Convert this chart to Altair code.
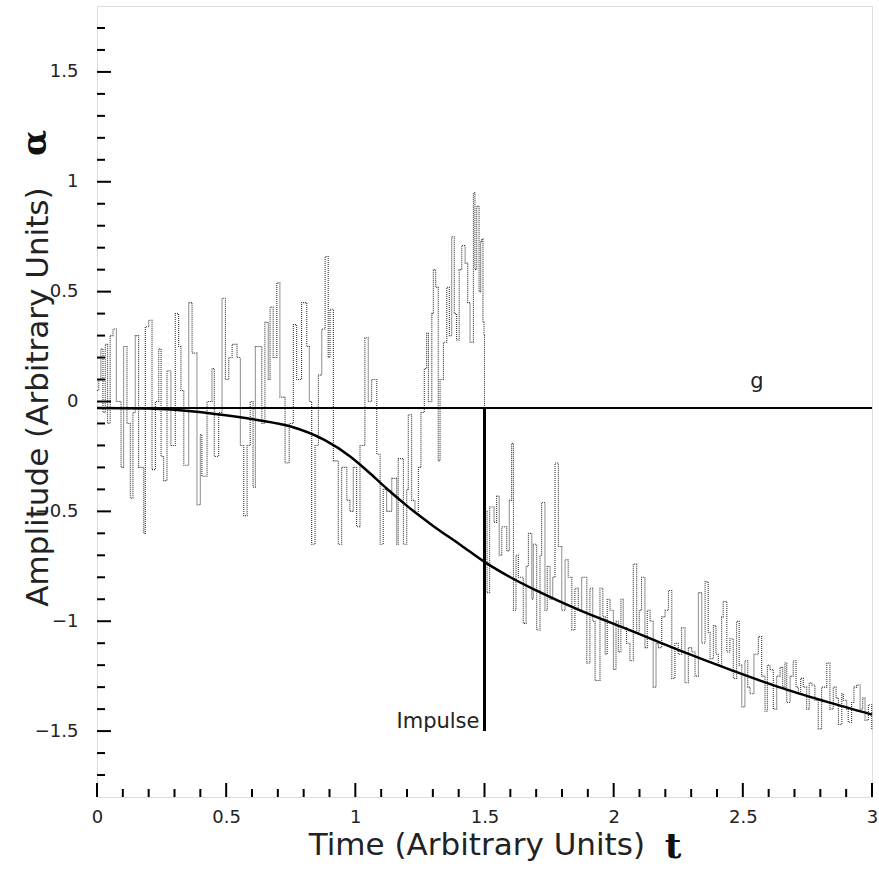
import altair as alt
import pandas as pd

# ---------------- data ----------------
trace_t = [0.000, 0.007, 0.015, 0.023, 0.032, 0.041, 0.051, 0.062, 0.075, 0.093,
           0.103, 0.116, 0.129, 0.139, 0.148, 0.161, 0.181, 0.187, 0.200, 0.213,
           0.226, 0.239, 0.248, 0.258, 0.271, 0.286, 0.303, 0.316, 0.325, 0.336,
           0.355, 0.368, 0.387, 0.400, 0.406, 0.426, 0.445, 0.454, 0.471, 0.484,
           0.497, 0.510, 0.523, 0.542, 0.555, 0.568, 0.581, 0.593, 0.604, 0.613,
           0.638, 0.650, 0.663, 0.670, 0.682, 0.696, 0.708, 0.728, 0.744, 0.760,
           0.773, 0.792, 0.812, 0.822, 0.831, 0.844, 0.857, 0.870, 0.883, 0.895,
           0.902, 0.915, 0.934, 0.947, 0.967, 0.979, 0.992, 1.005, 1.018, 1.037,
           1.050, 1.063, 1.083, 1.096, 1.108, 1.121, 1.141, 1.160, 1.166, 1.186,
           1.199, 1.205, 1.218, 1.231, 1.244, 1.254, 1.267, 1.276, 1.283, 1.296,
           1.302, 1.311, 1.321, 1.328, 1.341, 1.354, 1.364, 1.373, 1.383, 1.392,
           1.402, 1.412, 1.425, 1.435, 1.444, 1.457, 1.463, 1.470, 1.479, 1.485,
           1.490, 1.494, 1.498, 1.500,
           1.503, 1.510, 1.520, 1.537, 1.547, 1.557, 1.567, 1.586, 1.596, 1.605,
           1.612, 1.622, 1.631, 1.650, 1.661, 1.670, 1.683, 1.689, 1.702, 1.715,
           1.721, 1.734, 1.743, 1.754, 1.764, 1.773, 1.786, 1.799, 1.812, 1.824,
           1.838, 1.850, 1.863, 1.876, 1.896, 1.908, 1.919, 1.928, 1.947, 1.958,
           1.967, 1.975, 1.986, 1.999, 2.009, 2.018, 2.028, 2.037, 2.050, 2.063,
           2.076, 2.089, 2.099, 2.108, 2.121, 2.130, 2.141, 2.153, 2.164, 2.173,
           2.186, 2.199, 2.212, 2.225, 2.237, 2.250, 2.263, 2.276, 2.289, 2.302,
           2.315, 2.328, 2.341, 2.354, 2.366, 2.373, 2.386, 2.396, 2.405, 2.418,
           2.424, 2.438, 2.450, 2.463, 2.476, 2.486, 2.496, 2.508, 2.519, 2.528,
           2.543, 2.560, 2.573, 2.586, 2.595, 2.605, 2.618, 2.631, 2.644, 2.654,
           2.663, 2.670, 2.683, 2.695, 2.706, 2.715, 2.724, 2.734, 2.747, 2.757,
           2.767, 2.779, 2.792, 2.805, 2.825, 2.837, 2.850, 2.861, 2.870, 2.883,
           2.889, 2.902, 2.908, 2.921, 2.930, 2.941, 2.954, 2.964, 2.973, 2.986,
           2.999]
trace_v = [0.05, 0.10, 0.24, -0.05, 0.26, -0.10, 0.30, 0.33, 0.00, -0.30,
           0.25, -0.10, -0.44, -0.05, 0.30, -0.30, -0.60, 0.34, 0.37, -0.31,
           0.00, 0.24, -0.25, -0.36, 0.14, -0.20, 0.40, 0.25, 0.05, -0.29,
           0.45, 0.22, -0.47, -0.15, -0.34, 0.00, 0.15, -0.25, -0.05, 0.47,
           0.10, 0.20, 0.26, 0.20, -0.20, -0.52, -0.20, 0.00, -0.39, 0.25,
           -0.10, 0.36, 0.10, 0.43, 0.20, 0.54, 0.02, -0.28, -0.10, 0.35,
           0.10, 0.45, 0.25, 0.00, -0.65, -0.20, 0.12, 0.33, 0.66, 0.20,
           0.42, -0.27, -0.65, -0.30, -0.45, -0.50, -0.30, -0.57, -0.20, 0.29,
           0.00, 0.10, -0.24, -0.65, -0.40, -0.50, -0.35, -0.65, -0.26, -0.65,
           -0.40, -0.06, -0.45, -0.51, -0.30, -0.05, 0.15, 0.31, 0.00, 0.40,
           0.60, 0.52, -0.27, 0.10, 0.27, 0.52, 0.30, 0.75, 0.40, 0.28,
           0.60, 0.71, 0.63, 0.45, 0.27, 0.95, 0.60, 0.89, 0.50, 0.73,
           0.74, 0.36, 0.30, -0.04,
           -0.50, -0.87, -0.48, -0.55, -0.43, -0.70, -0.57, -0.68, -0.45, -0.19,
           -0.95, -0.70, -0.80, -1.01, -0.75, -0.60, -0.90, -0.65, -1.04, -0.70,
           -0.46, -0.95, -0.75, -0.90, -0.80, -0.28, -0.66, -0.95, -0.72, -0.80,
           -1.04, -0.85, -0.95, -0.80, -1.19, -0.85, -1.00, -1.27, -0.85, -0.98,
           -1.15, -0.90, -0.95, -1.22, -1.00, -1.14, -0.90, -1.03, -1.10, -1.18,
           -0.74, -1.05, -0.95, -0.80, -1.12, -0.95, -1.00, -1.30, -1.10, -1.12,
           -0.98, -0.95, -0.86, -1.26, -1.10, -1.15, -1.03, -1.28, -1.12, -1.14,
           -1.25, -0.87, -1.10, -0.82, -1.05, -1.17, -1.02, -1.15, -1.20, -0.98,
           -0.91, -1.14, -1.08, -1.26, -1.00, -1.20, -1.39, -1.18, -1.30, -1.33,
           -1.15, -1.07, -1.25, -1.41, -1.20, -1.22, -1.40, -1.25, -1.21, -1.30,
           -1.19, -1.37, -1.25, -1.18, -1.30, -1.33, -1.26, -1.30, -1.40, -1.28,
           -1.29, -1.36, -1.49, -1.30, -1.19, -1.40, -1.30, -1.35, -1.47, -1.33,
           -1.36, -1.40, -1.46, -1.37, -1.30, -1.29, -1.40, -1.35, -1.45, -1.38,
           -1.49]

curve_t = [0.0, 0.2, 0.3, 0.45, 0.62, 0.75, 0.88, 0.98, 1.06, 1.12, 1.2, 1.3,
           1.41, 1.5, 1.6, 1.7, 1.87, 2.05, 2.26, 2.45, 2.64, 2.82, 3.0]
curve_v = [-0.03, -0.032, -0.038, -0.056, -0.084, -0.114, -0.175, -0.25, -0.33,
           -0.395, -0.475, -0.565, -0.655, -0.73, -0.80, -0.86, -0.951, -1.035,
           -1.135, -1.22, -1.30, -1.365, -1.425]

g_t = [0.0, 3.0]
g_v = [-0.03, -0.03]

impulse_t = [1.5]
impulse_top = [-0.03]
impulse_bottom = [-1.5]

label_text = ["g", "Impulse"]
label_t = [2.555, 1.32]
label_v = [0.063, -1.485]

x_major = [0, 0.5, 1, 1.5, 2, 2.5, 3]
x_minor = [round(i * 0.1, 1) for i in range(1, 30) if i % 5]
y_major = [-1.5, -1, -0.5, 0, 0.5, 1, 1.5]
y_minor = [round(i * 0.1, 1) for i in range(-17, 18) if i % 5]

# ---------------- chart ----------------
W, H = 775, 791
FONT = "DejaVu Sans"

xs = alt.Scale(domain=[0, 3], nice=False, zero=False)
ys = alt.Scale(domain=[-1.8, 1.8], nice=False, zero=False)

trace_df = pd.DataFrame({"t": trace_t, "v": trace_v})
curve_df = pd.DataFrame({"t": curve_t, "v": curve_v})
g_df = pd.DataFrame({"t": g_t, "v": g_v})
imp_df = pd.DataFrame({"t": impulse_t, "a": impulse_top, "b": impulse_bottom})
lab_df = pd.DataFrame({"text": label_text, "t": label_t, "v": label_v})

x_axis = alt.Axis(values=x_major, ticks=False, domain=False, grid=False,
                  labelFont=FONT, labelFontSize=18, labelColor="#222",
                  labelPadding=11, title=None, labelFlush=False, format="~g")
y_axis = alt.Axis(values=y_major, ticks=False, domain=False, grid=False,
                  labelFont=FONT, labelFontSize=18, labelColor="#222",
                  labelPadding=19, title=None, format="~g")

trace = alt.Chart(trace_df).mark_line(
    interpolate="step-after", color="#333", strokeWidth=1.1, strokeDash=[1, 1]
).encode(
    x=alt.X("t:Q", scale=xs, axis=x_axis),
    y=alt.Y("v:Q", scale=ys, axis=y_axis),
)

gline = alt.Chart(g_df).mark_line(color="black", strokeWidth=2).encode(
    x=alt.X("t:Q", scale=xs), y=alt.Y("v:Q", scale=ys))

curve = alt.Chart(curve_df).mark_line(
    color="black", strokeWidth=2.5, interpolate="monotone"
).encode(x=alt.X("t:Q", scale=xs), y=alt.Y("v:Q", scale=ys))

impulse = alt.Chart(imp_df).mark_rule(color="black", strokeWidth=3).encode(
    x=alt.X("t:Q", scale=xs), y=alt.Y("a:Q", scale=ys), y2="b:Q")

labels = alt.Chart(lab_df).mark_text(
    font=FONT, fontSize=21, color="#222", align="center", baseline="alphabetic"
).encode(x=alt.X("t:Q", scale=xs), y=alt.Y("v:Q", scale=ys), text="text:N")

# inward ticks
def yticks(vals, length):
    return alt.Chart(pd.DataFrame({"v": vals})).mark_rule(
        color="black", strokeWidth=2).encode(
        y=alt.Y("v:Q", scale=ys), x=alt.value(0), x2=alt.value(length))

def xticks(vals, length):
    return alt.Chart(pd.DataFrame({"t": vals})).mark_rule(
        color="black", strokeWidth=2).encode(
        x=alt.X("t:Q", scale=xs), y=alt.value(H), y2=alt.value(H - length))

ticks = yticks(y_major, 14) + yticks(y_minor, 8) + xticks(x_major, 14) + xticks(x_minor, 8)

# axis titles (mixed fonts)
title_df = pd.DataFrame({"k": [0]})
xt1 = alt.Chart(title_df).mark_text(
    text="Time (Arbitrary Units)", font=FONT, fontSize=31, color="#222",
    align="right", baseline="alphabetic"
).encode(x=alt.value(548), y=alt.value(849))
xt2 = alt.Chart(title_df).mark_text(
    text="t", font="DejaVu Serif", fontWeight="bold", fontSize=36, color="#111",
    align="center", baseline="alphabetic"
).encode(x=alt.value(576), y=alt.value(852))
yt1 = alt.Chart(title_df).mark_text(
    text="Amplitude (Arbitrary Units)", font=FONT, fontSize=31, color="#222",
    align="center", baseline="alphabetic", angle=270
).encode(x=alt.value(-49), y=alt.value(391))
yt2 = alt.Chart(title_df).mark_text(
    text="α", font="DejaVu Serif", fontWeight="bold", fontSize=34, color="#111",
    align="center", baseline="alphabetic", angle=270
).encode(x=alt.value(-51), y=alt.value(137))

chart = alt.layer(
    trace, gline, curve, impulse, labels, ticks, xt1, xt2, yt1, yt2
).properties(
    width=W, height=H,
    autosize=alt.AutoSizeParams(type="none"),
    padding={"left": 97, "top": 6, "right": 7, "bottom": 86},
).configure_view(stroke="black", strokeWidth=2).configure(background="white")

chart.save("out.html", embed_options={"renderer": "svg", "actions": False})
